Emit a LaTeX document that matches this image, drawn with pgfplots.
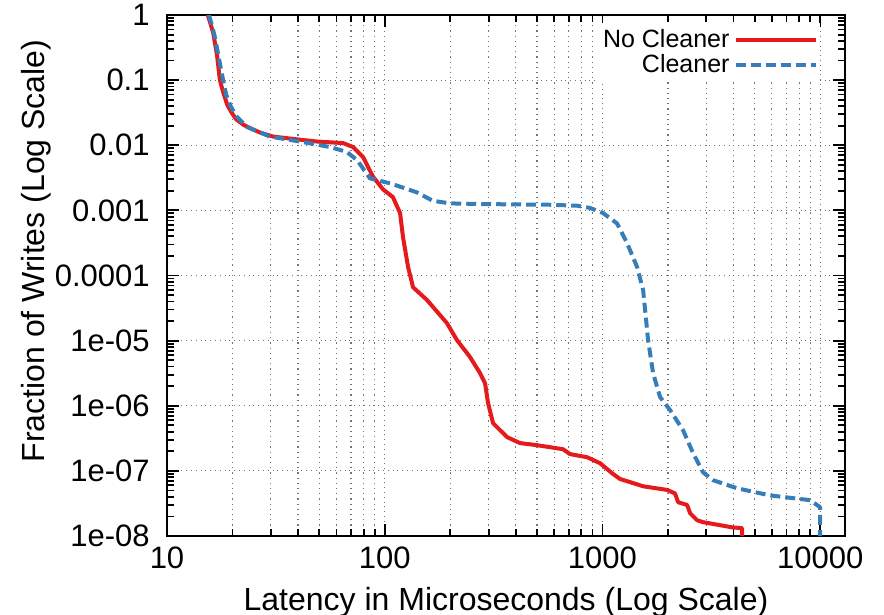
\documentclass[border=0pt]{standalone}
\usepackage{fontspec}
\setmainfont{Liberation Sans}
\usepackage{pgfplots}
\pgfplotsset{compat=1.18}

\definecolor{nocl}{RGB}{228,26,28}
\definecolor{cl}{RGB}{55,126,184}

\begin{document}
\begin{tikzpicture}
  \begin{axis}[
    scale only axis,
    width=339pt, height=260.5pt,
    xmode=log, ymode=log,
    xmin=10, xmax=13000,
    ymin=1e-8, ymax=1,
    xtick={10,100,1000,10000},
    xticklabels={10,100,1000,10000},
    ytick={1,0.1,0.01,0.001,0.0001,1e-5,1e-6,1e-7,1e-8},
    yticklabels={1,0.1,0.01,0.001,0.0001,1e-05,1e-06,1e-07,1e-08},
    minor xtick={20,30,40,50,60,70,80,90,200,300,400,500,600,700,800,900,2000,3000,4000,5000,6000,7000,8000,9000},
    minor ytick={2e-8,3e-8,4e-8,5e-8,6e-8,7e-8,8e-8,9e-8,
                 2e-7,3e-7,4e-7,5e-7,6e-7,7e-7,8e-7,9e-7,
                 2e-6,3e-6,4e-6,5e-6,6e-6,7e-6,8e-6,9e-6,
                 2e-5,3e-5,4e-5,5e-5,6e-5,7e-5,8e-5,9e-5,
                 2e-4,3e-4,4e-4,5e-4,6e-4,7e-4,8e-4,9e-4,
                 2e-3,3e-3,4e-3,5e-3,6e-3,7e-3,8e-3,9e-3,
                 2e-2,3e-2,4e-2,5e-2,6e-2,7e-2,8e-2,9e-2,
                 2e-1,3e-1,4e-1,5e-1,6e-1,7e-1,8e-1,9e-1},
    xmajorgrids, xminorgrids, ymajorgrids,
    grid style={black!55, dotted, line width=0.6pt},
    minor grid style={black!55, dotted, line width=0.6pt},
    tick align=inside,
    major tick length=6pt, minor tick length=3.5pt,
    every tick/.style={black, line width=0.9pt},
    axis line style={line width=1pt},
    /pgf/number format/assume math mode=true,
    tick label style={font=\fontsize{15.5}{15.5}\selectfont},
    xticklabel style={yshift=-2pt},
    yticklabel style={anchor=east, text width=70pt, align=right, inner sep=0pt, xshift=-8.5pt},
    xlabel={Latency in Microseconds (Log Scale)},
    ylabel={Fraction of Writes (Log Scale)},
    label style={font=\fontsize{16}{16}\selectfont},
    xlabel style={at={(rel axis cs:0.5,0)}, anchor=base, yshift=-37pt},
    ylabel style={at={(rel axis cs:0,0.547)}, anchor=base, yshift=61pt},
    legend plot pos=right,
    legend cell align=right,
    legend image code/.code={\draw[#1] (0pt,0pt) -- (40pt,0pt);},
    legend style={draw=none, fill=white, at={(0.963,0.985)}, anchor=north east,
      font=\fontsize{12.5}{12.5}\selectfont, inner sep=1pt, row sep=-2pt},
  ]
  \addplot[nocl, line width=2pt, line join=round] coordinates {
    (15.4,1.0) (16.3,0.53) (16.97,0.243) (17.5,0.1) (18.0,0.07) (18.9,0.042)
    (19.9,0.031) (20.8,0.025) (22.5,0.0205) (24.5,0.0178) (27,0.0155)
    (30.7,0.0136) (38,0.0125) (48.9,0.0114) (64.4,0.0108)
    (71.5,0.0094) (79.5,0.0066) (88.3,0.0033) (98.2,0.0021) (109,0.0016)
    (117.6,0.00091) (121.3,0.00039) (128,0.000135) (134.9,6.6e-5) (156.4,4.2e-5)
    (193,1.86e-5) (214.6,1.02e-5) (246.4,5.6e-6) (274,3.17e-6) (289,2.2e-6)
    (298.2,1.1e-6) (314.4,5.4e-7) (364.7,3.3e-7) (418.3,2.67e-7) (500.9,2.48e-7)
    (659,2.15e-7) (710,1.81e-7) (850,1.62e-7) (975,1.31e-7) (1107,9.2e-8)
    (1205,7.5e-8) (1382,6.5e-8) (1537,5.8e-8) (1981,5.1e-8) (2155,4.5e-8)
    (2225,3.3e-8) (2447,3.0e-8) (2526,2.24e-8) (2720,1.75e-8) (2898,1.63e-8)
    (3938,1.36e-8) (4378,1.32e-8) (4378,1e-8)
  };
  \addlegendentry{No Cleaner}
  \addplot[cl, line width=2pt, line join=round, dash pattern=on 5pt off 2.5pt] coordinates {
    (15.6,1.0) (16.5,0.5) (17.3,0.22) (18.1,0.1) (18.7,0.06) (19.6,0.04)
    (20.8,0.028) (23.3,0.0191) (29.7,0.0136) (42,0.0112) (56,0.0094) (67,0.0079)
    (74.7,0.0059) (85.6,0.0031) (105.8,0.0026) (140,0.0019) (166.7,0.0014)
    (200,0.00128) (282.8,0.00125) (574,0.00122) (764,0.00118) (877,0.00109)
    (1006,0.00091) (1167,0.00063) (1297,0.000315) (1442,0.000135) (1537,6.0e-5)
    (1620,1.02e-5) (1708,3.17e-6) (1839,1.36e-6) (2044,8.6e-7) (2346,4.2e-7)
    (2608,1.87e-7) (2898,9.5e-8) (3222,7.2e-8) (4153,5.4e-8) (5888,4.2e-8)
    (8987,3.55e-8) (9990,2.77e-8) (9990,1e-8)
  };
  \addlegendentry{Cleaner}
  \end{axis}
  \pgfresetboundingbox
  \path[use as bounding box] (-83.5pt,-39.5pt) rectangle (358.5pt,268pt);
\end{tikzpicture}
\end{document}
